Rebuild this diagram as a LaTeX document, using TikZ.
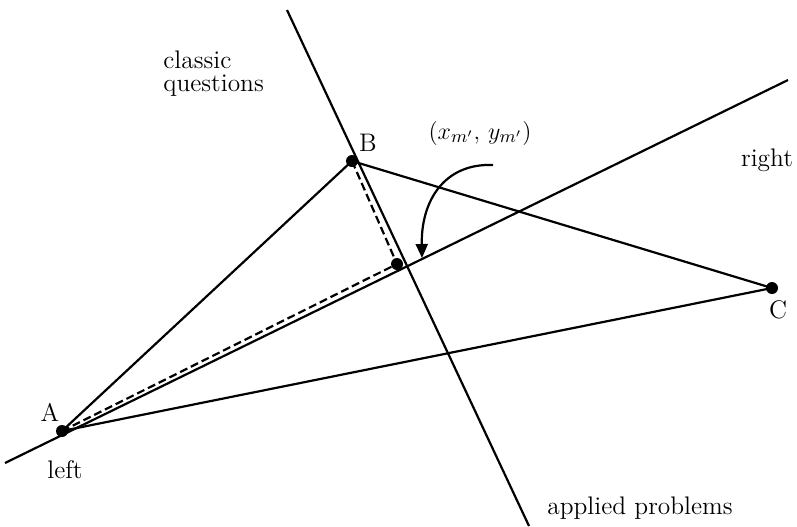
\documentclass[tikz,border=0pt]{standalone}
\usetikzlibrary{arrows.meta, positioning}

\begin{document}
\begin{tikzpicture}[
    x=0.5pt, y=-0.5pt,
    pt/.style={circle, fill, inner sep=0pt, minimum size=6pt},
    ln/.style={line width=1.1pt},
    lbl/.style={font=\fontsize{12.7}{11.5}\selectfont, inner sep=0pt, align=left}
]
    \useasboundingbox (0,0) rectangle (797,526);
    \node [pt] (a) at (62,431) {};
    \node [pt] (b) at (352,161) {};
    \node [pt] (c) at (772,288) {};
    \node [pt] (mid) at (397,264) {};
    \coordinate (divtop) at (287,10);
    \coordinate (divbot) at (529,526);
    \coordinate (axleft) at (5,463);
    \coordinate (axright) at (788,80);
    \coordinate (tail) at (493,165);
    \coordinate (head) at (422,258);
    % lines and triangle
    \draw [ln] (divtop) -- (divbot);
    \draw [ln] (axleft) -- (axright);
    \draw [ln] (a.center) -- (b.center) -- (c.center) -- cycle;
    \draw [ln, dash pattern=on 4pt off 2pt] (a.center) -- (mid.center);
    \draw [ln, dash pattern=on 4pt off 2pt] (b.center) -- (mid.center);
    \draw [ln, -{Triangle[length=7pt, width=6pt]}] (tail) .. controls (445,163) and (421,200) .. (head);
    % labels
    \node [lbl] (alabel) at (50,412) {A};
    \node [lbl] (blabel) at (368,143) {B};
    \node [lbl] (clabel) at (778,310) {C};
    \node [lbl] (leftlabel) at (65,470) {left};
    \node [lbl] (rightlabel) at (767,160) {right};
    \node [lbl, anchor=west] (classic) at (163,74) {classic\\questions};
    \node [lbl, anchor=west] (applied) at (547,508) {applied problems};
    \node [lbl] (coords) at (480,133) {$(x_{m'},\, y_{m'})$};
\end{tikzpicture}
\end{document}
